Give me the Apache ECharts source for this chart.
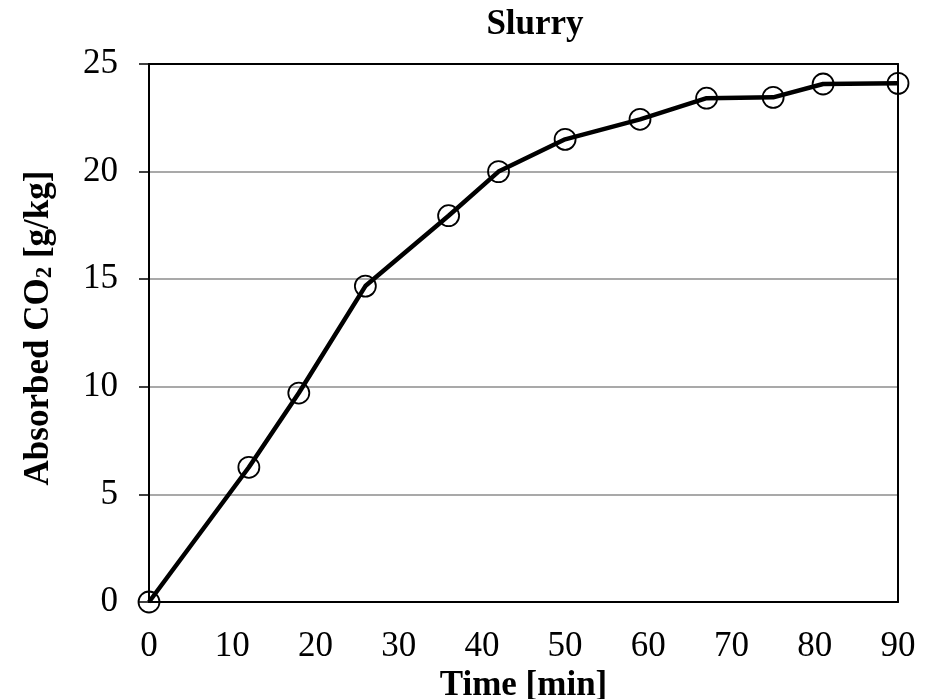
<!DOCTYPE html>
<html>
<head>
<meta charset="utf-8">
<script src="https://cdn.jsdelivr.net/npm/echarts@6/dist/echarts.min.js"></script>
<style>
  html, body { margin: 0; padding: 0; background: #fff; }
  #chart { width: 942px; height: 699px; }
</style>
</head>
<body>
<div id="chart"></div>
<script>
var timeMin = [0, 12, 18, 26, 36, 42, 50, 59, 67, 75, 81, 90];
var absorbed = [0, 6.26, 9.71, 14.68, 17.95, 20.0, 21.5, 22.43, 23.41, 23.45, 24.07, 24.1];

var points = [];
for (var i = 0; i < timeMin.length; i++) {
  points.push([timeMin[i], absorbed[i]]);
}

var chart = echarts.init(document.getElementById('chart'));
var font = 'Liberation Serif';

var option = {
  backgroundColor: '#fff',
  animation: false,
  title: {
    text: 'Slurry',
    left: 535,
    textAlign: 'center',
    top: 7,
    padding: 0,
    textStyle: { fontFamily: font, fontSize: 35, fontWeight: 'bold', color: '#000' }
  },
  grid: { left: 149, right: 44, top: 64, bottom: 97, outerBoundsMode: 'none' },
  xAxis: [{
    type: 'value',
    min: 0, max: 90, interval: 10,
    name: 'Time [min]',
    nameLocation: 'middle',
    nameGap: 60,
    nameTextStyle: { fontFamily: font, fontSize: 35, fontWeight: 'bold', color: '#000' },
    axisLine: { show: true, lineStyle: { color: '#000', width: 2 } },
    axisTick: { show: false },
    axisLabel: { fontFamily: font, fontSize: 35, color: '#000', margin: 27 },
    splitLine: { show: false }
  }, {
    type: 'value', position: 'top',
    min: 0, max: 90,
    axisLine: { show: true, onZero: false, lineStyle: { color: '#000', width: 2 } },
    axisTick: { show: false }, axisLabel: { show: false }, splitLine: { show: false }
  }],
  yAxis: [{
    type: 'value',
    min: 0, max: 25, interval: 5,
    name: 'Absorbed CO{sub|2} [g/kg]',
    nameLocation: 'middle',
    nameGap: 92,
    nameTextStyle: {
      fontFamily: font, fontSize: 35, fontWeight: 'bold', color: '#000',
      padding: [0, 0, 0, 10],
      rich: {
        sub: { fontFamily: font, fontSize: 23, fontWeight: 'bold', color: '#000', verticalAlign: 'bottom', padding: [14, 0, 0, 0] }
      }
    },
    axisLine: { show: true, lineStyle: { color: '#000', width: 2 } },
    axisTick: { show: true, inside: false, length: 10, lineStyle: { color: '#000', width: 1.5 } },
    axisLabel: { fontFamily: font, fontSize: 35, color: '#000', margin: 31 },
    splitLine: { show: true, lineStyle: { color: '#8c8c8c', width: 1.5 } }
  }, {
    type: 'value', position: 'right',
    min: 0, max: 25,
    axisLine: { show: true, onZero: false, lineStyle: { color: '#000', width: 2 } },
    axisTick: { show: false }, axisLabel: { show: false }, splitLine: { show: false }
  }],
  series: [{
    type: 'line',
    data: points,
    xAxisIndex: 0,
    yAxisIndex: 0,
    symbol: 'circle',
    symbolSize: 21,
    lineStyle: { color: '#000', width: 4.5 },
    itemStyle: { color: 'rgba(0,0,0,0)', borderColor: '#000', borderWidth: 1.8 },
    z: 5
  }]
};

chart.setOption(option);
</script>
</body>
</html>
